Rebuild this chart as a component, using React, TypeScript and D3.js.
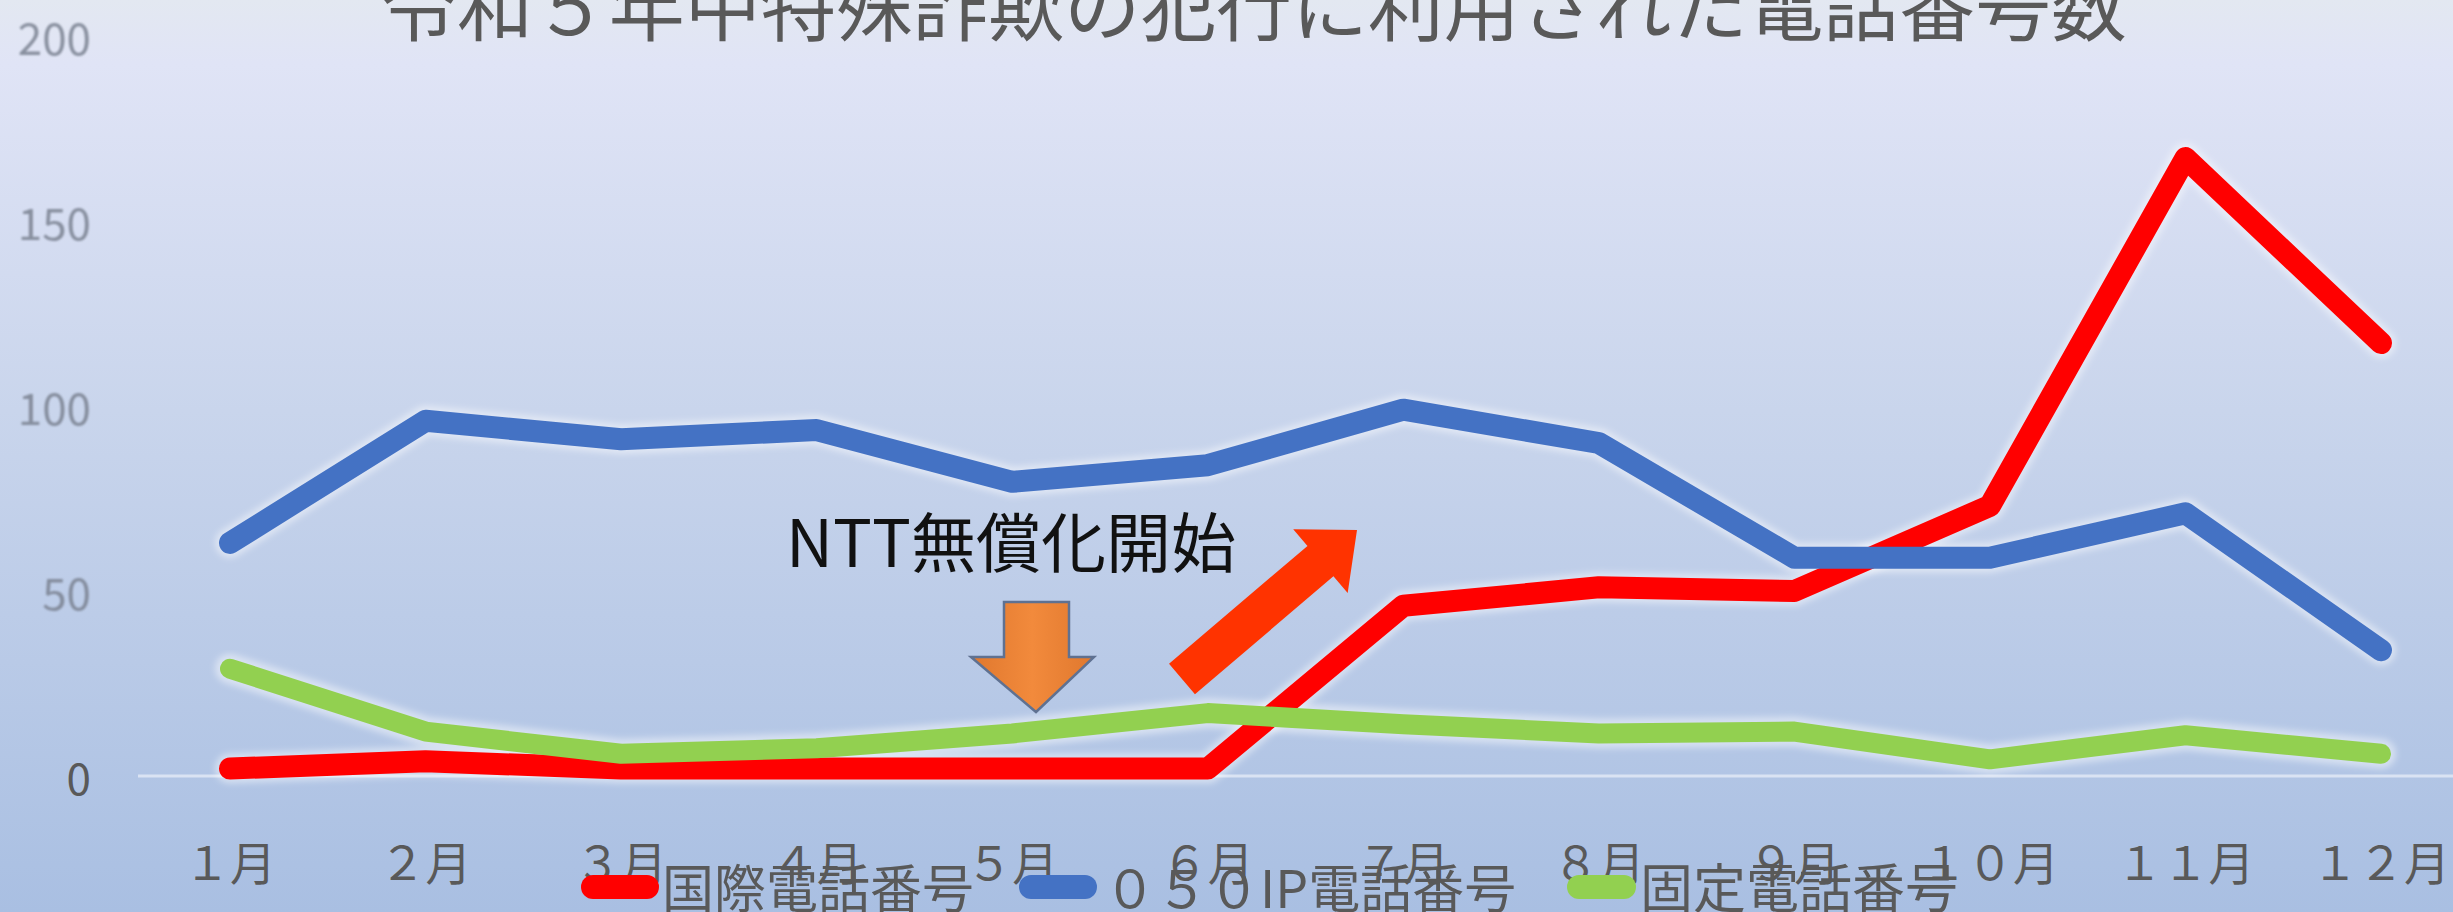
import React from "react";
import * as d3 from "d3";

const W = 2453;
const H = 912;

const months = ["１月", "２月", "３月", "４月", "５月", "６月", "７月", "８月", "９月", "１０月", "１１月", "１２月"];
const intlValues = [2, 4, 2, 2, 2, 2, 46, 51, 50, 73, 167, 117];
const ip050Values = [63, 96, 91, 93.5, 79.5, 84, 99, 90, 59, 59, 71, 34];
const fixedValues = [29, 12, 6, 7.5, 11.5, 17, 14, 11.5, 12, 4.5, 11, 6];
const yTicks = [0, 50, 100, 150, 200];
const seriesNames = ["国際電話番号", "０５０IP電話番号", "固定電話番号"];
const seriesColors = ["#FF0000", "#4472C4", "#92D050"];
const title = "令和５年中特殊詐欺の犯行に利用された電話番号数";
const annotation = "NTT無償化開始";

const FONT = "'Noto Sans CJK JP', 'Noto Sans', sans-serif";

export default function App() {
  const x = d3.scalePoint<string>().domain(months).range([230, 2381]);
  const y = d3.scaleLinear().domain([0, 200]).range([776, 36]);
  const line = d3
    .line<number>()
    .x((_, i) => x(months[i]) as number)
    .y((d) => y(d));

  const series = [intlValues, ip050Values, fixedValues];

  // red diagonal arrow geometry (local coords, then rotated)
  const ax0 = 1182, ay0 = 679, ax1 = 1357, ay1 = 530;
  const aLen = Math.hypot(ax1 - ax0, ay1 - ay0);
  const aAng = (Math.atan2(ay1 - ay0, ax1 - ax0) * 180) / Math.PI;
  const shaftW = 40, headW = 84, headL = 48;
  const arrowPts = [
    [0, -shaftW / 2],
    [aLen - headL, -shaftW / 2],
    [aLen - headL, -headW / 2],
    [aLen, 0],
    [aLen - headL, headW / 2],
    [aLen - headL, shaftW / 2],
    [0, shaftW / 2],
  ]
    .map((p) => p.join(","))
    .join(" ");

  // orange down arrow
  const downPts = [
    [1004, 602],
    [1069, 602],
    [1069, 657],
    [1094, 657],
    [1036, 712],
    [971, 657],
    [1004, 657],
  ]
    .map((p) => p.join(","))
    .join(" ");

  const legendItems = [
    { sx: 593, tx: 662, fs: 52 },
    { sx: 1031, tx: 1104, fs: 52 },
    { sx: 1579, tx: 1640, fs: 53 },
  ];

  return (
    <svg
      width={W}
      height={H}
      style={{ position: "fixed", left: 0, top: 0, display: "block" }}
      fontFamily={FONT}
    >
      <defs>
        <linearGradient id="bg" x1="0" y1="0" x2="0" y2="1">
          <stop offset="0%" stopColor="#e3e8f1" />
          <stop offset="7%" stopColor="#e0e4f6" />
          <stop offset="45%" stopColor="#c9d5ec" />
          <stop offset="100%" stopColor="#a9bfe2" />
        </linearGradient>
        <linearGradient id="orangeGrad" x1="0" y1="0" x2="1" y2="0">
          <stop offset="0%" stopColor="#e0782e" />
          <stop offset="50%" stopColor="#f28a3c" />
          <stop offset="100%" stopColor="#e0782e" />
        </linearGradient>
        <filter id="glow" x="-5%" y="-20%" width="110%" height="140%">
          <feGaussianBlur stdDeviation="3" />
        </filter>
        <filter id="soft" x="-10%" y="-30%" width="120%" height="160%">
          <feGaussianBlur stdDeviation="0.8" />
        </filter>
      </defs>
      <rect x={0} y={0} width={W} height={H} fill="url(#bg)" />

      {/* title */}
      <text
        x={1254}
        y={35}
        textAnchor="middle"
        fontSize={76}
        fill="#595959"
        textLength={1746}
        lengthAdjust="spacingAndGlyphs"
      >
        {title}
      </text>

      {/* zero gridline */}
      <line x1={138} x2={W} y1={y(0)} y2={y(0)} stroke="#dae3f3" strokeWidth={3} />

      {/* y axis labels */}
      {yTicks.map((t) => (
        <text
          key={t}
          x={91}
          y={y(t)}
          textAnchor="end"
          dominantBaseline="central"
          fontSize={44}
          fill={t === 0 ? "#595959" : "#7a8291"}
          opacity={t === 0 ? 1 : 0.85}
          filter={t === 0 ? undefined : "url(#soft)"}
        >
          {t}
        </text>
      ))}

      {/* x axis labels */}
      {months.map((m) => (
        <text key={m} x={x(m)} y={880} textAnchor="middle" fontSize={46} fill="#595959">
          {m}
        </text>
      ))}

      {/* series halos */}
      {series.map((s, i) => (
        <path
          key={"h" + i}
          d={line(s) || ""}
          fill="none"
          stroke="#ffffff"
          strokeOpacity={0.45}
          strokeWidth={30}
          strokeLinejoin="round"
          strokeLinecap="round"
          filter="url(#glow)"
        />
      ))}
      {/* series lines */}
      {series.map((s, i) => (
        <path
          key={"l" + i}
          d={line(s) || ""}
          fill="none"
          stroke={seriesColors[i]}
          strokeWidth={i === 2 ? 20 : 22}
          strokeLinejoin="round"
          strokeLinecap="round"
        />
      ))}

      {/* annotation */}
      <text x={786} y={567} fontSize={65} fill="#111111" textLength={450} lengthAdjust="spacingAndGlyphs">
        {annotation}
      </text>
      <polygon points={downPts} fill="url(#orangeGrad)" stroke="#5f7191" strokeWidth={2.5} strokeLinejoin="miter" />
      <g transform={`translate(${ax0},${ay0}) rotate(${aAng})`}>
        <polygon points={arrowPts} fill="#FF3300" />
      </g>

      {/* legend */}
      {legendItems.map((l, i) => (
        <g key={"lg" + i}>
          <line
            x1={l.sx}
            x2={l.sx + (i === 2 ? 45 : 54)}
            y1={887}
            y2={887}
            stroke={seriesColors[i]}
            strokeWidth={24}
            strokeLinecap="round"
          />
          <text x={l.tx} y={908} fontSize={l.fs} fill="#595959">
            {seriesNames[i]}
          </text>
        </g>
      ))}
    </svg>
  );
}
